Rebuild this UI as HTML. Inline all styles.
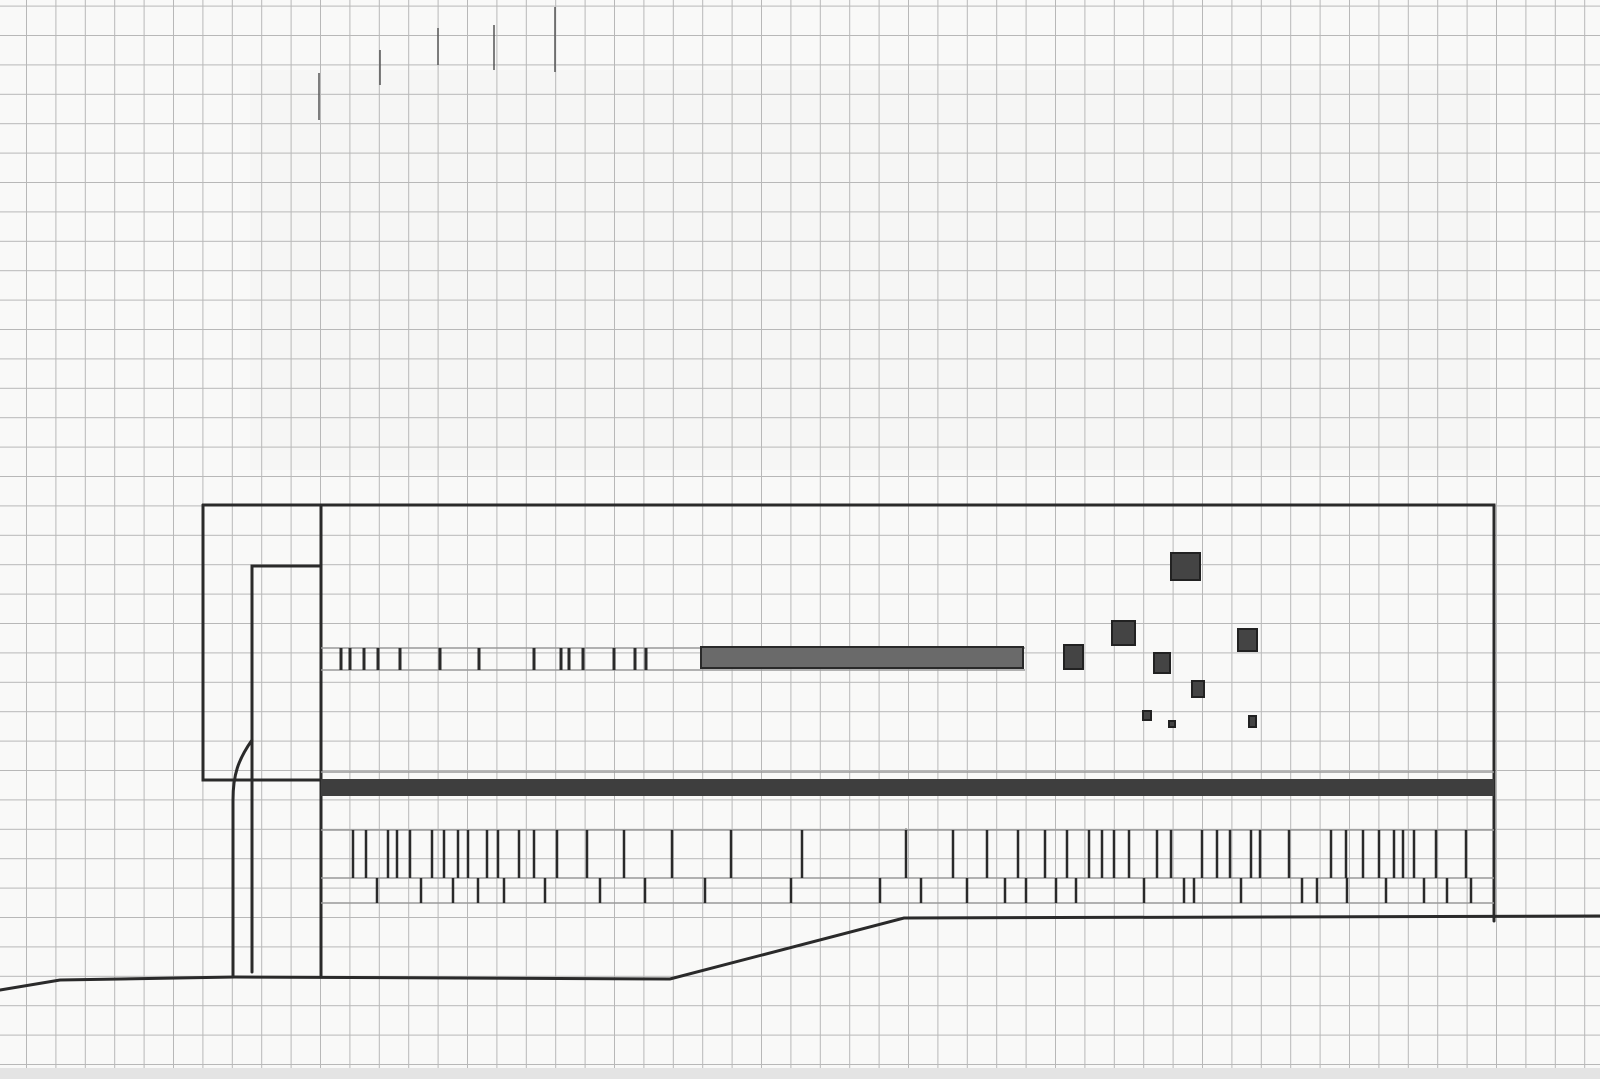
<!DOCTYPE html>
<html><head><meta charset="utf-8"><style>html,body{margin:0;padding:0;background:#f7f7f6}svg{display:block}</style></head>
<body>
<svg width="1600" height="1079" viewBox="0 0 1600 1079" xmlns="http://www.w3.org/2000/svg">
<defs>
<pattern id="g" x="26" y="35" width="29.4" height="29.4" patternUnits="userSpaceOnUse">
<path d="M0 0H29.4M0 0V29.4" stroke="#b8b8b8" stroke-width="2" fill="none"/>
</pattern>
</defs>
<rect width="1600" height="1079" fill="#f9f9f8"/>
<rect x="250" y="70" width="1240" height="400" fill="#ededed" opacity="0.3"/>
<rect width="1600" height="1079" fill="url(#g)"/>
<rect x="0" y="1068" width="1600" height="11" fill="#e4e4e4"/>
<g stroke="#555" stroke-width="1.5">
<line x1="319" y1="73" x2="319" y2="120"/><line x1="380" y1="50" x2="380" y2="85"/>
<line x1="438" y1="28" x2="438" y2="65"/><line x1="494" y1="25" x2="494" y2="70"/><line x1="555" y1="7" x2="555" y2="72"/>
</g>
<g fill="none" stroke="#2a2a2a" stroke-width="3" stroke-linecap="round">
<path d="M203 505 H1494 V921"/>
<path d="M203 505 V780 H321"/>
<path d="M321 505 V977"/>
<path d="M321 566 H252 V972"/>
<path d="M252 740 C238 760 233 775 233 800 V977"/>
<path d="M0 990 L60 980 L235 977 L670 979 L904 918 L1600 916"/>
</g>
<g stroke="#999" stroke-width="1.5" fill="none">
<line x1="321" y1="772" x2="1494" y2="772"/>
<line x1="321" y1="648" x2="1025" y2="648"/><line x1="321" y1="670" x2="1025" y2="670"/>
<line x1="321" y1="830" x2="1494" y2="830"/><line x1="321" y1="878" x2="1494" y2="878"/><line x1="321" y1="903" x2="1494" y2="903"/>
<line x1="906" y1="828" x2="906" y2="878"/>
</g>
<rect x="321" y="779" width="1173" height="17" fill="#3e3e3e"/>
<rect x="701" y="647" width="322" height="21" fill="#6a6a6a" stroke="#2a2a2a" stroke-width="2"/>
<g fill="#444" stroke="#222" stroke-width="2">
<rect x="1171" y="553" width="29" height="27"/><rect x="1112" y="621" width="23" height="24"/>
<rect x="1064" y="645" width="19" height="24"/><rect x="1154" y="653" width="16" height="20"/>
<rect x="1238" y="629" width="19" height="22"/><rect x="1192" y="681" width="12" height="16"/>
<rect x="1143" y="711" width="8" height="9"/><rect x="1169" y="721" width="6" height="6"/><rect x="1249" y="716" width="7" height="11"/>
</g>
<g stroke="#2a2a2a" stroke-width="3">
<line x1="341" y1="648" x2="341" y2="670"/><line x1="350" y1="648" x2="350" y2="670"/><line x1="364" y1="648" x2="364" y2="670"/>
<line x1="378" y1="648" x2="378" y2="670"/><line x1="400" y1="648" x2="400" y2="670"/><line x1="440" y1="648" x2="440" y2="670"/>
<line x1="479" y1="648" x2="479" y2="670"/><line x1="534" y1="648" x2="534" y2="670"/><line x1="561" y1="648" x2="561" y2="670"/>
<line x1="569" y1="648" x2="569" y2="670"/><line x1="583" y1="648" x2="583" y2="670"/><line x1="614" y1="648" x2="614" y2="670"/>
<line x1="635" y1="648" x2="635" y2="670"/><line x1="646" y1="648" x2="646" y2="670"/>
</g>
<g stroke="#2a2a2a" stroke-width="2.5">
<path d="M353 830V878M366 830V878M388 830V878M397 830V878M410 830V878M432 830V878M444 830V878M458 830V878M468 830V878M487 830V878M498 830V878M519 830V878M534 830V878M557 830V878M587 830V878M624 830V878M672 830V878M731 830V878M802 830V878M906 830V878M953 830V878M987 830V878M1018 830V878M1045 830V878M1067 830V878M1089 830V878M1102 830V878M1114 830V878M1129 830V878M1157 830V878M1171 830V878M1202 830V878M1217 830V878M1230 830V878M1251 830V878M1260 830V878M1289 830V878M1331 830V878M1346 830V878M1363 830V878M1379 830V878M1394 830V878M1403 830V878M1414 830V878M1436 830V878M1466 830V878"/>
<path d="M377 878V903M421 878V903M453 878V903M478 878V903M504 878V903M545 878V903M600 878V903M645 878V903M705 878V903M791 878V903M880 878V903M921 878V903M967 878V903M1005 878V903M1026 878V903M1056 878V903M1076 878V903M1144 878V903M1184 878V903M1194 878V903M1241 878V903M1302 878V903M1317 878V903M1347 878V903M1386 878V903M1424 878V903M1447 878V903M1471 878V903"/>
</g>
</svg>
</body></html>
